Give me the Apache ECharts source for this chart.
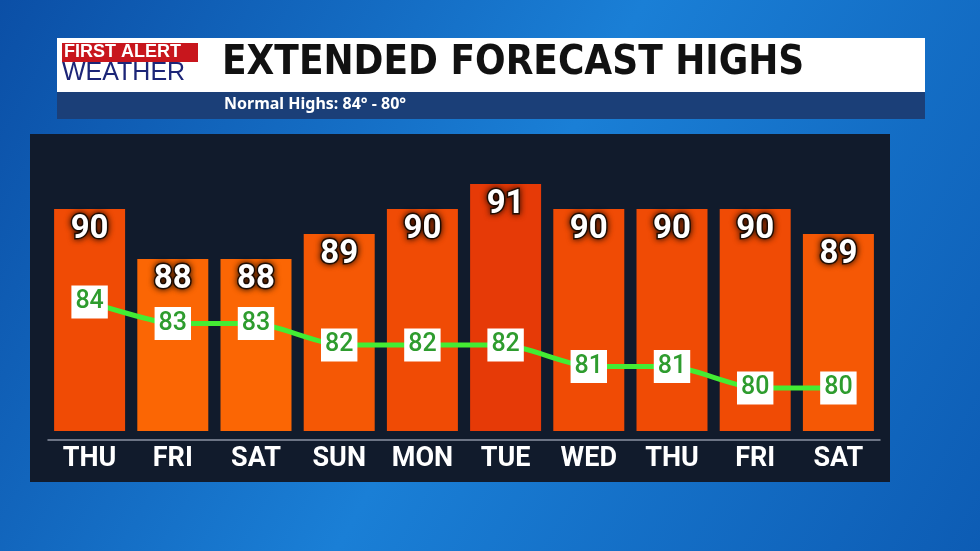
<!DOCTYPE html>
<html><head><meta charset="utf-8">
<script src="https://cdn.jsdelivr.net/npm/echarts@6/dist/echarts.min.js"></script>
<style>html,body{margin:0;padding:0;background:#0d5fb8}</style>
</head><body>
<div id="main" style="width:980px;height:551px"></div>
<script>
const days = ['THU', 'FRI', 'SAT', 'SUN', 'MON', 'TUE', 'WED', 'THU', 'FRI', 'SAT'];
const highs = [90, 88, 88, 89, 90, 91, 90, 90, 90, 89];
const normals = [84, 83, 83, 82, 82, 82, 81, 81, 80, 80];
const barColors = {88: '#fb6604', 89: '#f55805', 90: '#f04b05', 91: '#e63a07'};

const chart = echarts.init(document.getElementById('main'));
chart.setOption({
  backgroundColor: new echarts.graphic.LinearGradient(0, 0, 1, 1, [
    {offset: 0, color: '#0b4fa6'}, {offset: 0.5, color: '#1a7fd6'}, {offset: 1, color: '#0d5cb4'}
  ]),
  graphic: [
    {type: 'rect', shape: {x: 30, y: 134, width: 860, height: 348}, style: {fill: '#111b2c'}},
    {type: 'rect', shape: {x: 57, y: 92, width: 868, height: 27}, style: {fill: '#1b3f78'}},
    {type: 'rect', shape: {x: 57, y: 38, width: 868, height: 54}, style: {fill: '#ffffff'}},
    {type: 'rect', shape: {x: 62, y: 43, width: 136, height: 19}, style: {fill: '#c8161d'}},
    {type: 'text', left: 64, top: 43, style: {text: 'FIRST ALERT', fill: '#fff', font: 'bold 18px "Liberation Sans"'}},
    {type: 'text', left: 62, top: 61, style: {text: 'WEATHER', fill: '#1c2577', font: '25px "Liberation Sans"'}},
    {type: 'text', left: 222, top: 44, style: {text: 'EXTENDED FORECAST HIGHS', fill: '#111', font: 'bold 40px "DejaVu Sans Condensed"'}},
    {type: 'text', left: 224, top: 96, style: {text: 'Normal Highs: 84° - 80°', fill: '#fff', font: 'bold 16px "Noto Sans"'}}
  ],
  grid: {left: 48, right: 100, top: 184, bottom: 120},
  xAxis: {
    type: 'category', data: days, offset: 9,
    axisLine: {lineStyle: {color: '#8a93a3', width: 1.5}}, axisTick: {show: false},
    axisLabel: {color: '#fff', fontSize: 27, fontWeight: 'bold', fontFamily: 'Roboto', margin: 6}
  },
  yAxis: [
    {type: 'value', min: 81.12, max: 91, show: false},
    {type: 'value', min: 78, max: 89.49, show: false}
  ],
  series: [
    {
      type: 'bar', barWidth: 71, data: highs,
      itemStyle: {color: p => barColors[p.value]},
      label: {
        show: true, position: 'insideTop', distance: 4, color: '#fff', fontSize: 33,
        fontWeight: 'bold', fontFamily: 'Roboto',
        textBorderColor: '#2a1205', textBorderWidth: 3,
        textShadowColor: 'rgba(0,0,0,0.7)', textShadowBlur: 6
      }
    },
    {
      type: 'line', yAxisIndex: 1, data: normals, smooth: 0.2,
      symbol: 'circle', symbolSize: 1, showSymbol: true,
      itemStyle: {color: '#44ec33'},
      lineStyle: {color: '#44ec33', width: 5},
      label: {
        show: true, position: 'inside', color: '#2e9c2e', fontSize: 25, fontFamily: 'Roboto',
        fontWeight: 500, backgroundColor: '#fff', padding: [5, 4, 3, 4]
      }
    }
  ]
});
</script>
</body></html>
